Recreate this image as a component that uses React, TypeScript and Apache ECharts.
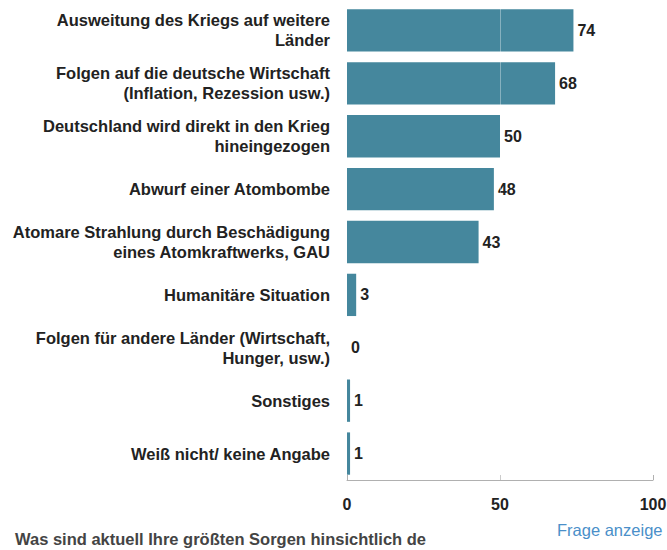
import React, { useEffect, useRef } from "react";
import * as echarts from "echarts";

const categories = [
  "Ausweitung des Kriegs auf weitere\nLänder",
  "Folgen auf die deutsche Wirtschaft\n(Inflation, Rezession usw.)",
  "Deutschland wird direkt in den Krieg\nhineingezogen",
  "Abwurf einer Atombombe",
  "Atomare Strahlung durch Beschädigung\neines Atomkraftwerks, GAU",
  "Humanitäre Situation",
  "Folgen für andere Länder (Wirtschaft,\nHunger, usw.)",
  "Sonstiges",
  "Weiß nicht/ keine Angabe",
];
const values = [74, 68, 50, 48, 43, 3, 0, 1, 1];
const axisTicks = [0, 50, 100];
const questionText = "Was sind aktuell Ihre größten Sorgen hinsichtlich de";
const linkText = "Frage anzeige";

const FONT = "'Liberation Sans', Arial, sans-serif";

export default function App() {
  const ref = useRef<HTMLDivElement>(null);
  useEffect(() => {
    if (!ref.current) return;
    const chart = echarts.init(ref.current, undefined, { renderer: "svg" });
    chart.setOption({
      animation: false,
      grid: { left: 347, right: 47, top: 4, bottom: 70, containLabel: false },
      xAxis: {
        type: "value",
        min: axisTicks[0],
        max: axisTicks[axisTicks.length - 1],
        interval: axisTicks[1] - axisTicks[0],
        axisLine: { show: true, lineStyle: { color: "#b0b0b0", width: 1 } },
        axisTick: { show: true, inside: true, length: 5, lineStyle: { color: "#b0b0b0" } },
        splitLine: { show: false },
        axisLabel: {
          fontFamily: FONT,
          fontWeight: "bold",
          fontSize: 16,
          color: "#222",
          margin: 16,
        },
      },
      yAxis: {
        type: "category",
        inverse: true,
        data: categories,
        axisLine: { show: false },
        axisTick: { show: false },
        axisLabel: {
          fontFamily: FONT,
          fontWeight: "bold",
          fontSize: 16.5,
          color: "#222",
          lineHeight: 20,
          align: "right",
          margin: 17,
        },
      },
      series: [
        {
          type: "bar",
          data: values,
          barWidth: "80%",
          itemStyle: { color: "#45879d" },
          label: {
            show: true,
            position: "right",
            distance: 4,
            fontFamily: FONT,
            fontWeight: "bold",
            fontSize: 16,
            color: "#222",
          },
          markLine: {
            silent: true,
            symbol: "none",
            label: { show: false },
            lineStyle: { color: "rgba(255,255,255,0.35)", type: "solid", width: 1 },
            data: [{ xAxis: 50 }],
          },
        },
      ],
      graphic: [
        {
          type: "text",
          left: 15,
          top: 530,
          style: {
            text: questionText,
            fontFamily: FONT,
            fontWeight: "bold",
            fontSize: 16.5,
            fill: "#444",
          },
        },
        {
          type: "text",
          left: 557,
          top: 521,
          style: {
            text: linkText,
            fontFamily: FONT,
            fontSize: 16.5,
            fill: "#4a8fc9",
          },
        },
      ],
    });
    return () => chart.dispose();
  }, []);
  return (
    <div
      style={{
        position: "fixed",
        left: 0,
        top: 0,
        width: 667,
        height: 550,
        overflow: "hidden",
        background: "#fff",
      }}
    >
      <div ref={ref} style={{ width: 700, height: 550 }} />
    </div>
  );
}
